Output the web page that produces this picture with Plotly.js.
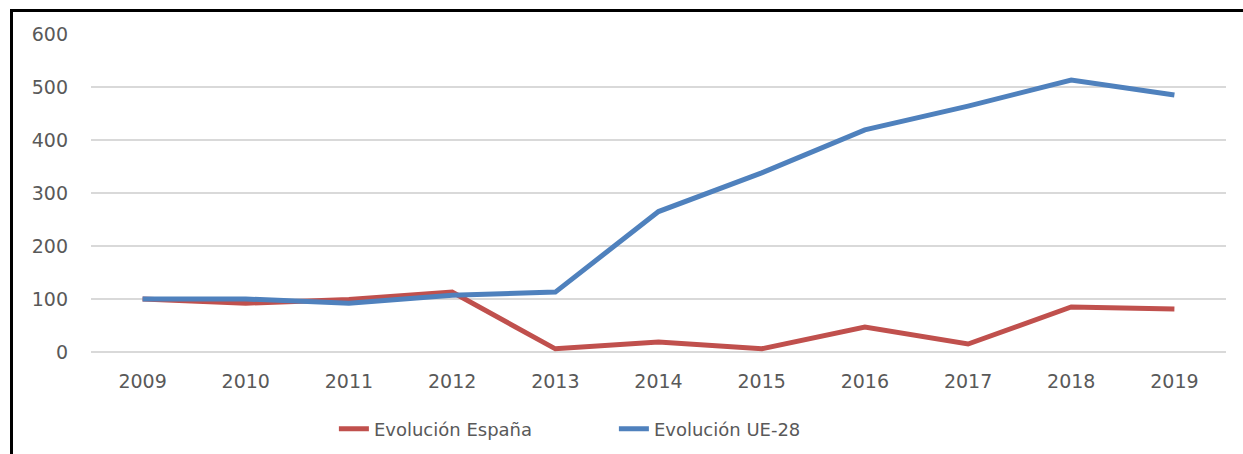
<!DOCTYPE html>
<html>
<head>
<meta charset="utf-8">
<script src="https://cdn.plot.ly/plotly-3.0.1.min.js"></script>
<style>
    html, body { margin: 0; padding: 0; background: #fff; }
    #chart { width: 1243px; height: 454px; }
    #frame {
        position: absolute; left: 10px; top: 9px; width: 1240px; height: 450px;
        border-left: 3px solid #000; border-top: 3px solid #000; pointer-events: none;
    }
</style>
</head>
<body>
<div id="chart"></div>
<div id="frame"></div>
<script>
var years = ['2009', '2010', '2011', '2012', '2013', '2014', '2015', '2016', '2017', '2018', '2019'];
var evolEspana = [100, 92, 99, 113, 6, 19, 6, 47, 15, 85, 81];
var evolUE28 = [100, 100, 92, 107, 113, 265, 338, 419, 464, 513, 485];

var gray = '#595959';
var gridColor = '#d9d9d9';

var espanaTrace = {
    x: years,
    y: evolEspana,
    type: 'scatter',
    mode: 'lines',
    name: 'Evolución España',
    line: { color: '#c0504d', width: 5 }
};
var ueTrace = {
    x: years,
    y: evolUE28,
    type: 'scatter',
    mode: 'lines',
    name: 'Evolución UE-28',
    line: { color: '#4f81bd', width: 5 }
};

var chartLayout = {
    width: 1243,
    height: 454,
    margin: { l: 91, r: 17, t: 34, b: 102 },
    paper_bgcolor: '#fff',
    plot_bgcolor: '#fff',
    font: { family: 'DejaVu Sans, sans-serif', color: gray, size: 18 },
    showlegend: true,
    legend: {
        orientation: 'h',
        x: 0.214, xanchor: 'left',
        xref: 'paper',
        y: 0.055, yanchor: 'middle',
        yref: 'container',
        font: { size: 18, color: gray },
        entrywidth: 235,
        entrywidthmode: 'pixels'
    },
    xaxis: {
        type: 'category',
        range: [-0.5, 10.5],
        showgrid: false,
        showline: false,
        zeroline: false,
        ticks: '',
        ticklabelstandoff: 16,
        tickfont: { size: 19, color: gray }
    },
    yaxis: {
        range: [0, 600],
        dtick: 100,
        showgrid: true,
        gridcolor: gridColor,
        gridwidth: 1.5,
        zeroline: true,
        zerolinecolor: gridColor,
        zerolinewidth: 1.5,
        ticks: '',
        ticklabelstandoff: 22,
        tickfont: { size: 19, color: gray }
    }
};

Plotly.newPlot('chart', [espanaTrace, ueTrace], chartLayout, { displayModeBar: false, staticPlot: true });
</script>
</body>
</html>
